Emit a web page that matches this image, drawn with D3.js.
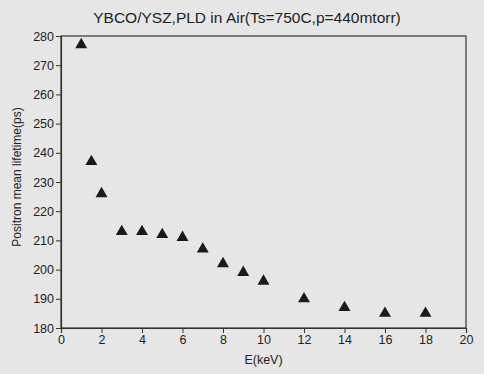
<!DOCTYPE html>
<html>
<head>
<meta charset="utf-8">
<script src="https://cdn.jsdelivr.net/npm/d3@7"></script>
<style>
  body { margin: 0; background: #e6e6e6; }
  svg { display: block; font-family: "Liberation Sans", Arial, sans-serif; }
</style>
</head>
<body>
<svg id="chart" width="484" height="374"></svg>
<script>
// positron lifetime vs implantation energy
const energy = [1, 1.5, 2, 3, 4, 5, 6, 7, 8, 9, 10, 12, 14, 16, 18];
const lifetime = [277, 237, 226, 213, 213, 212, 211, 207, 202, 199, 196, 190, 187, 185, 185];
const xTicks = [0, 2, 4, 6, 8, 10, 12, 14, 16, 18, 20];
const yTicks = [180, 190, 200, 210, 220, 230, 240, 250, 260, 270, 280];

const width = 484, height = 374;
const margin = {top: 36, right: 18, bottom: 46, left: 61};

const svg = d3.select("#chart");

const x = d3.scaleLinear().domain([0, 20]).range([margin.left, width - margin.right]);
const y = d3.scaleLinear().domain([180, 280]).range([height - margin.bottom, margin.top]);

// frame
svg.append("rect")
  .attr("x", margin.left).attr("y", margin.top)
  .attr("width", x(20) - x(0)).attr("height", y(180) - y(280))
  .attr("fill", "none").attr("stroke", "#333").attr("stroke-width", 1.2);

const xAxis = svg.append("g")
  .attr("transform", `translate(0,${y(180)})`)
  .call(d3.axisBottom(x).tickValues(xTicks).tickSize(5).tickPadding(2));
const yAxis = svg.append("g")
  .attr("transform", `translate(${x(0)},0)`)
  .call(d3.axisLeft(y).tickValues(yTicks).tickSize(5).tickPadding(2));

[xAxis, yAxis].forEach(g => {
  g.select(".domain").attr("stroke", "#333").attr("stroke-width", 1.2);
  g.selectAll(".tick line").attr("stroke", "#333");
  g.selectAll(".tick text").attr("fill", "#222")
    .style("font-size", "12.5px").style("font-family", "Liberation Sans, Arial, sans-serif");
});

// markers
svg.append("g").selectAll("path")
  .data(energy.map((e, i) => [e, lifetime[i]]))
  .join("path")
  .attr("transform", d => `translate(${x(d[0])},${y(d[1])})`)
  .attr("d", d3.symbol().type(d3.symbolTriangle).size(62))
  .attr("fill", "#1a1a1a");

svg.append("text")
  .attr("x", 247).attr("y", 23)
  .attr("text-anchor", "middle")
  .style("font-size", "15.5px").attr("fill", "#222")
  .text("YBCO/YSZ,PLD in Air(Ts=750C,p=440mtorr)");

svg.append("text")
  .attr("x", (x(0) + x(20)) / 2).attr("y", 364)
  .attr("text-anchor", "middle")
  .style("font-size", "12.5px").attr("fill", "#222")
  .text("E(keV)");

svg.append("text")
  .attr("transform", `translate(21,${(y(180) + y(280)) / 2 - 5}) rotate(-90)`)
  .attr("text-anchor", "middle")
  .style("font-size", "12px").attr("fill", "#222")
  .text("Positron mean lifetime(ps)");
</script>
</body>
</html>
